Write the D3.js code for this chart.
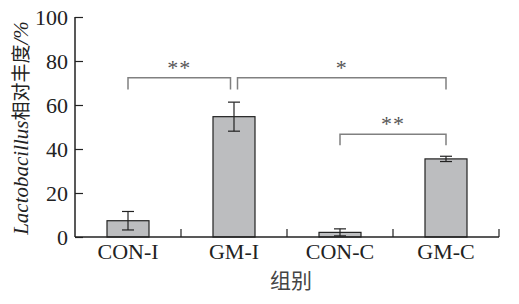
<!DOCTYPE html>
<html>
<head>
<meta charset="utf-8">
<script src="https://cdn.jsdelivr.net/npm/d3@7"></script>
<style>
body { margin: 0; background: #fff; }
</style>
</head>
<body>
<div class="chart"></div>
<script>
var groups = ["CON-I", "GM-I", "CON-C", "GM-C"];
var means = [7.4, 54.7, 2.1, 35.5];
var errs = [4.2, 6.6, 1.6, 1.2];
var yTicks = [0, 20, 40, 60, 80, 100];
// significance brackets: from group, to group, top value, leg bottom value, label
var sigFrom = ["CON-I", "GM-I", "CON-C"];
var sigTo = ["GM-I", "GM-C", "GM-C"];
var sigTop = [72.4, 72.4, 46.7];
var sigLeg = [67.1, 67.1, 41.7];
var sigLabel = ["**", "*", "**"];

var width = 519, height = 304;
var mLeft = 75, mRight = 499, mTop = 17, mBottom = 237;

var svg = d3.select(".chart").append("svg")
    .attr("width", width)
    .attr("height", height);

var xb = d3.scaleBand().domain(groups).range([mLeft, mRight]);
var y = d3.scaleLinear().domain([0, 100]).range([mBottom, mTop]);

var serif = "'Liberation Serif', 'Times New Roman', serif";

// bars
svg.selectAll(".bar")
    .data(groups)
    .enter().append("rect")
    .attr("class", "bar")
    .attr("x", function(d) { return xb(d) + xb.bandwidth() / 2 - 21; })
    .attr("width", 42)
    .attr("y", function(d, i) { return y(means[i]); })
    .attr("height", function(d, i) { return y(0) - y(means[i]); })
    .attr("fill", "#bcbdbf")
    .attr("stroke", "#222")
    .attr("stroke-width", 1.2);

// error bars
var eb = svg.append("g").attr("stroke", "#222").attr("stroke-width", 1.2);
groups.forEach(function(g, i) {
    var cx = xb(g) + xb.bandwidth() / 2;
    eb.append("line").attr("x1", cx).attr("x2", cx).attr("y1", y(means[i] + errs[i])).attr("y2", y(means[i] - errs[i]));
    eb.append("line").attr("x1", cx - 6).attr("x2", cx + 6).attr("y1", y(means[i] + errs[i])).attr("y2", y(means[i] + errs[i]));
    eb.append("line").attr("x1", cx - 6).attr("x2", cx + 6).attr("y1", y(means[i] - errs[i])).attr("y2", y(means[i] - errs[i]));
});

// axes
var yAxis = d3.axisLeft(y).tickValues(yTicks).tickSizeInner(-8).tickSizeOuter(0).tickPadding(7);
var ya = svg.append("g").attr("transform", "translate(" + mLeft + ",0)").call(yAxis);
ya.select(".domain").attr("stroke", "#222").attr("stroke-width", 1.5).attr("d", "M0," + mTop + "V" + mBottom);
ya.selectAll(".tick line").attr("stroke", "#222").attr("stroke-width", 1.2);
ya.selectAll(".tick text").attr("font-family", serif).attr("font-size", 22).attr("fill", "#222").attr("dy", "0.34em");

var xa = svg.append("g").attr("transform", "translate(0," + mBottom + ")")
    .call(d3.axisBottom(xb).tickSize(0).tickPadding(6));
xa.select(".domain").attr("stroke", "#222").attr("stroke-width", 1.5).attr("d", "M" + mLeft + ",0H" + mRight);
xa.selectAll(".tick text").attr("font-family", serif).attr("font-size", 22).attr("fill", "#222");
// band boundary ticks
xa.selectAll(".bt")
    .data(groups)
    .enter().append("line")
    .attr("x1", function(d) { return xb(d) + xb.bandwidth(); })
    .attr("x2", function(d) { return xb(d) + xb.bandwidth(); })
    .attr("y1", 0).attr("y2", -8)
    .attr("stroke", "#222").attr("stroke-width", 1.2);

// significance brackets
var sg = svg.append("g");
sigLabel.forEach(function(lab, i) {
    var x1 = xb(sigFrom[i]) + xb.bandwidth() / 2;
    var x2 = xb(sigTo[i]) + xb.bandwidth() / 2;
    if (i === 0) x2 -= 3.5;
    if (i === 1) x1 += 3.5;
    sg.append("path")
        .attr("d", "M" + x1 + "," + y(sigLeg[i]) + "V" + y(sigTop[i]) + "H" + x2 + "V" + y(sigLeg[i]))
        .attr("fill", "none").attr("stroke", "#808080").attr("stroke-width", 1.5);
    sg.append("text")
        .attr("x", (x1 + x2) / 2)
        .attr("y", y(sigTop[i]) - 3)
        .attr("text-anchor", "middle")
        .attr("font-family", serif).attr("font-size", 22).attr("fill", "#555")
        .attr("letter-spacing", 1)
        .text(lab);
});

// axis titles
var yt = svg.append("text")
    .attr("transform", "translate(28," + ((mTop + mBottom) / 2 + 1) + ") rotate(-90)")
    .attr("text-anchor", "middle")
    .attr("font-size", 21).attr("fill", "#222");
yt.append("tspan").attr("font-family", serif).attr("font-style", "italic").text("Lactobacillus");
yt.append("tspan").attr("font-family", "'Noto Sans CJK SC', sans-serif").attr("font-size", 19).text("相对丰度");
yt.append("tspan").attr("font-family", serif).attr("font-style", "italic").text("/%");

svg.append("text")
    .attr("x", (mLeft + mRight) / 2 + 4)
    .attr("y", 288)
    .attr("text-anchor", "middle")
    .attr("font-family", "'Noto Sans CJK SC', sans-serif").attr("font-size", 21).attr("fill", "#444")
    .text("组别");
</script>
</body>
</html>
